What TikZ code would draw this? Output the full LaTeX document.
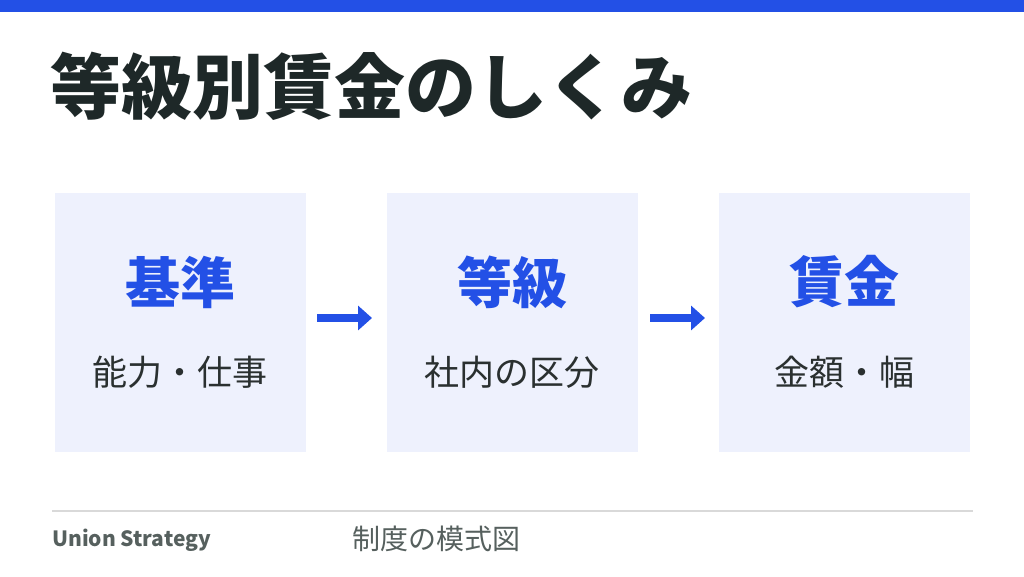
\documentclass[tikz,border=0pt]{standalone}
\usepackage{fontspec}
\setmainfont{Noto Sans CJK JP}
\newfontfamily\jpfont{Noto Sans CJK JP}
\usetikzlibrary{arrows.meta}
\definecolor{brand}{HTML}{2350E6}
\definecolor{boxfill}{HTML}{EEF1FD}
\definecolor{titlecol}{HTML}{1E2828}
\definecolor{subcol}{HTML}{2A3030}
\definecolor{footcol}{HTML}{56605E}
\definecolor{rulecol}{HTML}{D9D9D9}
\tikzset{
  stagebox/.style={fill=boxfill, draw=none, minimum width=251pt, minimum height=259pt, inner sep=0pt},
  headtxt/.style={text=brand, font=\jpfont\bfseries\fontsize{55}{60}\selectfont, inner sep=0pt},
  subtxt/.style={text=subcol, font=\jpfont\fontsize{35}{40}\selectfont, inner sep=0pt},
  flowarrow/.style={draw=brand, line width=8pt, -{Triangle[length=14pt,width=24pt]}}
}
\begin{document}
\begin{tikzpicture}[x=1pt,y=-1pt]
\useasboundingbox (0,0) rectangle (1024,576);
\fill[brand] (0,0) rectangle (1024,12);
\node[anchor=west, inner sep=0pt, text=titlecol, font=\jpfont\bfseries\fontsize{71}{80}\selectfont] (title) at (50,86) {等級別賃金のしくみ};
\node[stagebox] (b1) at (180.5,322.5) {};
\node[stagebox] (b2) at (512.5,322.5) {};
\node[stagebox] (b3) at (844.5,322.5) {};
\node[headtxt] (h1) at (180,282) {基準};
\node[headtxt] (h2) at (512,282) {等級};
\node[headtxt] (h3) at (844,282) {賃金};
\node[subtxt] (s1) at (180,372) {能力・仕事};
\node[subtxt] (s2) at (512,372) {社内の区分};
\node[subtxt] (s3) at (844,372) {金額・幅};
\coordinate (a1s) at (317,318);
\coordinate (a1e) at (372,318);
\coordinate (a2s) at (650,318);
\coordinate (a2e) at (705,318);
\draw[flowarrow] (a1s) -- (a1e);
\draw[flowarrow] (a2s) -- (a2e);
\coordinate (r1) at (52,511);
\coordinate (r2) at (973,511);
\draw[rulecol, line width=1.2pt] (r1) -- (r2);
\node[anchor=west, inner sep=0pt, text=footcol, font=\jpfont\bfseries\fontsize{21}{26}\selectfont] (brandtxt) at (52,540) {Union Strategy};
\node[anchor=west, inner sep=0pt, text=footcol, font=\jpfont\fontsize{28}{32}\selectfont] (caption) at (352,539) {制度の模式図};
\end{tikzpicture}
\end{document}
